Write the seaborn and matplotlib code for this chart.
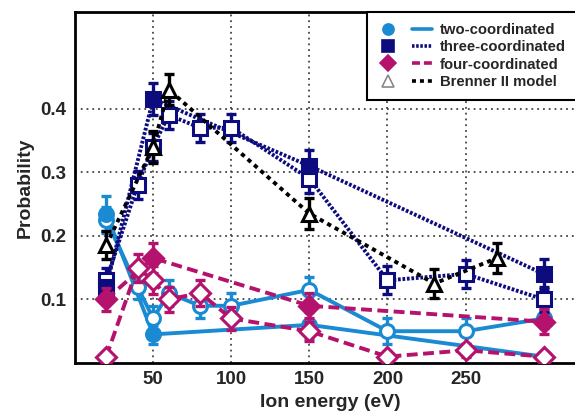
import matplotlib
matplotlib.use("Agg")
import matplotlib.pyplot as plt
from matplotlib.lines import Line2D
from matplotlib.legend_handler import HandlerTuple
import seaborn as sns

# ---- data ----
energy_sim = [20, 50, 150, 300]
energy_scan = [20, 40, 50, 60, 80, 100, 150, 200, 250, 300]
energy_brenner = [20, 50, 60, 150, 230, 270]

two_filled = [0.235, 0.045, 0.06, 0.01]
two_filled_err = [0.028, 0.015, 0.02, 0.006]
two_open = [0.225, 0.12, 0.07, 0.11, 0.09, 0.09, 0.115, 0.05, 0.05, 0.07]
two_open_err = [0.02, 0.02, 0.02, 0.02, 0.02, 0.02, 0.02, 0.02, 0.02, 0.015]

three_filled = [0.12, 0.415, 0.31, 0.14]
three_filled_err = [0.02, 0.025, 0.025, 0.023]
three_open = [0.13, 0.28, 0.34, 0.39, 0.37, 0.37, 0.29, 0.13, 0.14, 0.10]
three_open_err = [0.02, 0.022, 0.022, 0.022, 0.022, 0.022, 0.022, 0.022, 0.022, 0.02]

four_filled = [0.10, 0.165, 0.09, 0.065]
four_filled_err = [0.018, 0.024, 0.02, 0.02]
four_open = [0.01, 0.15, 0.13, 0.10, 0.11, 0.07, 0.05, 0.01, 0.02, 0.01]
four_open_err = [0.008, 0.022, 0.022, 0.02, 0.02, 0.018, 0.015, 0.008, 0.01, 0.008]

brenner = [0.185, 0.34, 0.43, 0.235, 0.125, 0.165]
brenner_err = [0.022, 0.025, 0.025, 0.025, 0.023, 0.023]

x_ticks = [50, 100, 150, 200, 250]
y_ticks = [0.1, 0.2, 0.3, 0.4]
legend_labels = ["two-coordinated", "three-coordinated", "four-coordinated", "Brenner II model"]

# ---- style ----
sns.set_style("white")
plt.rcParams["font.family"] = ["Liberation Sans", "DejaVu Sans"]
plt.rcParams["font.weight"] = "bold"

C_TWO = "#1a8bd3"
C_THREE = "#0c0c7e"
C_FOUR = "#b5126e"
C_BREN = "#000000"

W, H = 575, 416
fig = plt.figure(figsize=(W / 100, H / 100), dpi=100)
ax_left, ax_right, ax_top, ax_bottom = 75, 585, 12, 363
ax = fig.add_axes([ax_left / W, 1 - ax_bottom / H,
                   (ax_right - ax_left) / W, (ax_bottom - ax_top) / H])

LW = 2.8
MS = 10
MEW = 2.2

def series(x, y, err, color, ls, marker, filled, z):
    sns.lineplot(x=x, y=y, ax=ax, sort=False, estimator=None, color=color,
                 linewidth=LW, linestyle=ls, zorder=z)
    ax.errorbar(x, y, yerr=err, fmt="none", ecolor=color, elinewidth=2.4,
                capsize=3.5, capthick=2.4, zorder=z + 0.1)
    ax.plot(x, y, linestyle="none", marker=marker, markersize=MS,
            markerfacecolor=(color if filled else "white"),
            markeredgecolor=color, markeredgewidth=MEW, zorder=z + 0.2)

DOT = (0, (0.7, 0.45))
DASH = (0, (2.8, 1.4))
BDASH = (0, (1.1, 1.1))

series(energy_scan, two_open, two_open_err, C_TWO, "-", "o", False, 3)
series(energy_sim, two_filled, two_filled_err, C_TWO, "-", "o", True, 3)
series(energy_scan, three_open, three_open_err, C_THREE, DOT, "s", False, 4)
series(energy_sim, three_filled, three_filled_err, C_THREE, DOT, "s", True, 4)
series(energy_scan, four_open, four_open_err, C_FOUR, DASH, "D", False, 5)
series(energy_sim, four_filled, four_filled_err, C_FOUR, DASH, "D", True, 5)
series(energy_brenner, brenner, brenner_err, C_BREN, BDASH, "^", False, 6)

ax.set_xlim(0, (ax_right - ax_left) / 1.5625)
ax.set_ylim(0, 0.552)
ax.set_xticks(x_ticks)
ax.set_yticks(y_ticks)
ax.set_xticklabels([str(v) for v in x_ticks], fontsize=13.5, fontweight="bold")
ax.set_yticklabels([f"{v:.1f}" for v in y_ticks], fontsize=13.5, fontweight="bold")
ax.tick_params(length=0, pad=6)
ax.grid(True, linestyle=(0, (1, 2.2)), color="#444444", linewidth=1.3, zorder=0)
ax.set_axisbelow(True)
for s in ["left", "bottom", "top"]:
    ax.spines[s].set_color("black")
    ax.spines[s].set_linewidth(2.0)
ax.spines["right"].set_visible(False)

ax.set_xlabel("Ion energy (eV)", fontsize=14, fontweight="bold", labelpad=4)
ax.set_ylabel("Probability", fontsize=14, fontweight="bold", labelpad=5)

def mk(marker, color, face, size=8):
    return Line2D([], [], linestyle="none", marker=marker, markersize=size,
                  markerfacecolor=face, markeredgecolor=color, markeredgewidth=1.2)

def ln(color, ls):
    return Line2D([], [], color=color, linestyle=ls, linewidth=2.6)

handles = [
    (mk("o", C_TWO, C_TWO), ln(C_TWO, "-")),
    (mk("s", C_THREE, C_THREE), ln(C_THREE, (0, (0.7, 0.45)))),
    (mk("D", C_FOUR, C_FOUR), ln(C_FOUR, (0, (2.2, 1.1)))),
    (mk("^", "#888888", "white"), ln(C_BREN, (0, (1.1, 1.1)))),
]
leg = ax.legend(handles, legend_labels, loc="upper right",
                bbox_to_anchor=(577 / W, 1 - ax_top / H), bbox_transform=fig.transFigure,
                borderaxespad=0, fancybox=False, framealpha=1, edgecolor="black",
                prop={"weight": "bold", "size": 10.7}, handlelength=3.6,
                handletextpad=0.55, labelspacing=0.22, borderpad=0.75,
                handler_map={tuple: HandlerTuple(ndivide=None, pad=0.9)})
leg.get_frame().set_linewidth(1.5)
leg.set_zorder(10)

fig.savefig("out.png", dpi=100)
